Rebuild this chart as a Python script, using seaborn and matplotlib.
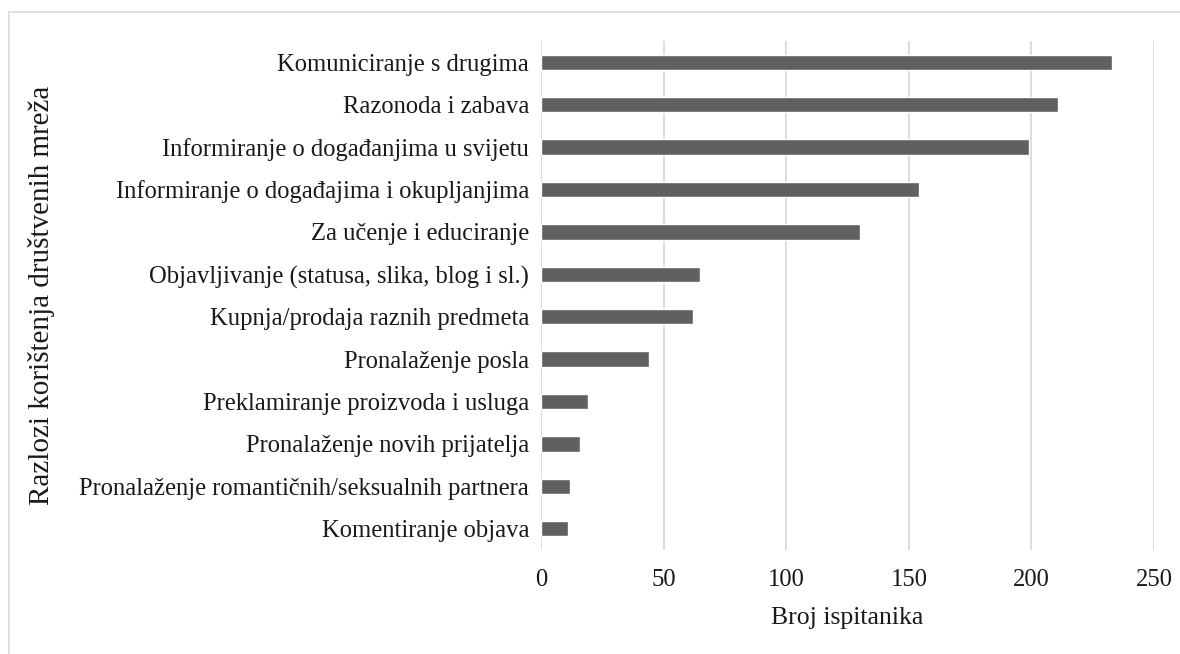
import pandas as pd
import seaborn as sns
import matplotlib.pyplot as plt
from matplotlib.lines import Line2D

categories = [
    "Komuniciranje s drugima",
    "Razonoda i zabava",
    "Informiranje o događanjima u svijetu",
    "Informiranje o događajima i okupljanjima",
    "Za učenje i educiranje",
    "Objavljivanje (statusa, slika, blog i sl.)",
    "Kupnja/prodaja raznih predmeta",
    "Pronalaženje posla",
    "Preklamiranje proizvoda i usluga",
    "Pronalaženje novih prijatelja",
    "Pronalaženje romantičnih/seksualnih partnera",
    "Komentiranje objava",
]
counts = [233, 211, 199, 154, 130, 65, 62, 44, 19, 16, 12, 11]
x_ticks = [0, 50, 100, 150, 200, 250]

df = pd.DataFrame({"razlog": categories, "broj": counts})

sns.set_style("white")
plt.rcParams["font.family"] = ["Liberation Serif", "DejaVu Serif"]

fig = plt.figure(figsize=(11.8, 6.54), dpi=100)
ax = fig.add_axes([541 / 1180, 1 - 550 / 654, (1154 - 541) / 1180, (550 - 41) / 654])

sns.barplot(data=df, x="broj", y="razlog", color="#606060", saturation=1,
            width=0.36, ax=ax, zorder=3)

ax.set_xlim(0, 250)
ax.set_xticks(x_ticks)
ax.grid(axis="x", color="#d9d9d9", linewidth=1.3, zorder=0)
ax.grid(axis="y", visible=False)
for s in ax.spines.values():
    s.set_visible(False)
ax.tick_params(axis="both", length=0, labelsize=17.7, colors="#1a1a1a")
ax.tick_params(axis="x", pad=14)
ax.tick_params(axis="y", pad=8.5)
ax.set_xlabel("Broj ispitanika", fontsize=18.5, color="#1a1a1a", labelpad=11)
ax.set_ylabel("Razlozi korištenja društvenih mreža", fontsize=21, color="#1a1a1a")
ax.yaxis.set_label_coords((55 - 541) / 613, 0.5)

# chart area border (only top and left visible in the crop)
fig.add_artist(Line2D([9 / 1180, 1], [1 - 12 / 654, 1 - 12 / 654], color="#d9d9d9", lw=1.2))
fig.add_artist(Line2D([9 / 1180, 9 / 1180], [0, 1 - 12 / 654], color="#d9d9d9", lw=1.2))

fig.savefig("out.png", dpi=100)
